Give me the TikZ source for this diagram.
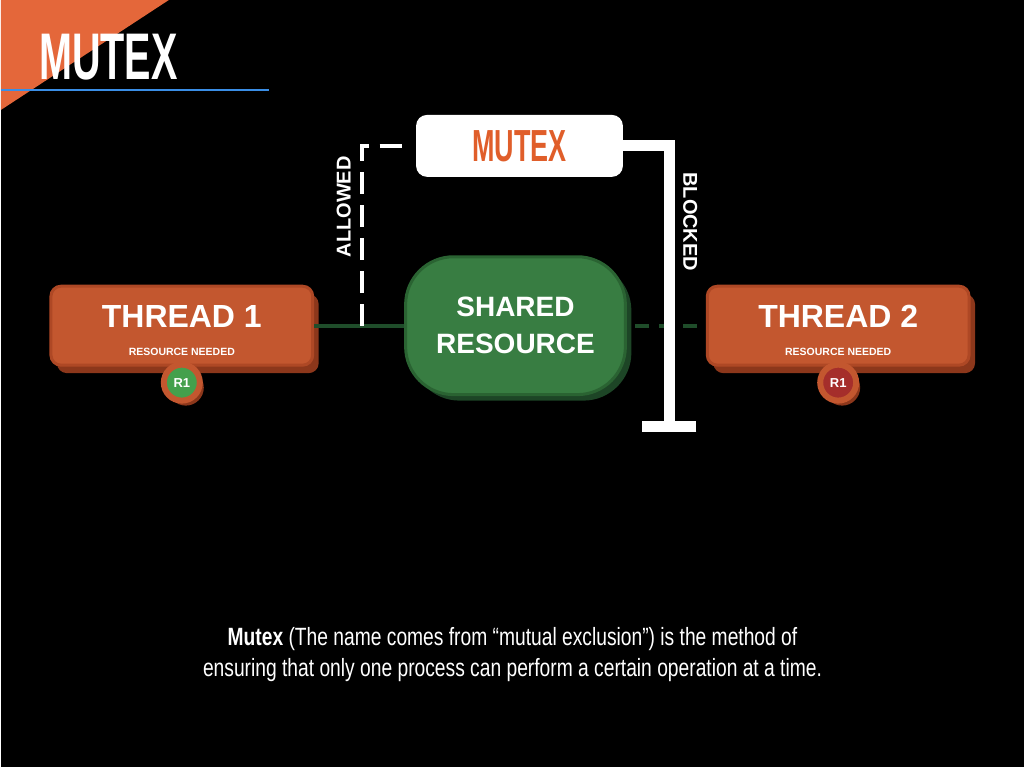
\documentclass[tikz,border=0pt]{standalone}
\usepackage{fontspec}
\setmainfont{Liberation Sans}
\newfontfamily\headfont[FakeStretch=0.6]{Liberation Sans}
\newfontfamily\notefont[FakeStretch=0.77]{Liberation Sans}
\usetikzlibrary{arrows.meta,shadows,positioning}

\definecolor{cornerorange}{HTML}{E4673A}
\definecolor{ruleblue}{HTML}{3A8EE6}
\definecolor{tface}{HTML}{C3572F}
\definecolor{tedge}{HTML}{AE4825}
\definecolor{tshade}{HTML}{8C371B}
\definecolor{gface}{HTML}{387D42}
\definecolor{gedge}{HTML}{2A6332}
\definecolor{gshade}{HTML}{1D4526}
\definecolor{linkgreen}{HTML}{1F4D2A}
\definecolor{okgreen}{HTML}{44A04C}
\definecolor{nored}{HTML}{A52E2B}
\definecolor{mutexorange}{HTML}{E05E2A}

\begin{document}
\begin{tikzpicture}[x=1pt,y=-1pt,
  tbox/.style={rectangle,rounded corners=10pt,fill=tface,draw=tedge,line width=3pt,minimum width=262pt,minimum height=79pt,general shadow={fill=tshade,shadow xshift=6pt,shadow yshift=-8pt}},
  tname/.style={text=white,inner sep=0pt,font=\bfseries\fontsize{32}{32}\selectfont},
  need/.style={text=white,inner sep=0pt,font=\bfseries\fontsize{10.5}{10.5}\selectfont},
  rdot/.style n args={1}{circle,fill=#1,draw=tface,line width=6pt,minimum size=36pt,inner sep=0pt,text=white,font=\bfseries\fontsize{13}{13}\selectfont,general shadow={fill=tshade,shadow xshift=4pt,shadow yshift=-5pt}},
  sidetext/.style={text=white,inner sep=0pt,font=\bfseries\fontsize{20}{20}\selectfont},
  linkline/.style={linkgreen,line width=4pt}]
\fill[black] (0,0) rectangle (1024,768);
\fill[cornerorange] (0,0) -- (168,0) -- (0,110) -- cycle;
\draw[ruleblue,line width=2pt] (0,90) -- (268,90);
\node[anchor=base west,inner sep=0pt,text=white,font=\headfont\bfseries\fontsize{66}{66}\selectfont] (title) at (38,80) {MUTEX};

% threads
\foreach \i/\x/\c in {1/181/okgreen,2/838/nored} {
   \node[tbox] (thread\i) at (\x,326) {};
   \node[tname] (name\i) at (\x,317) {THREAD \i};
   \node[need] (need\i) at (\x,352) {RESOURCE NEEDED};
   \node[rdot=\c] (res\i) at (\x,383) {R1};
}

\node[rectangle,rounded corners=48pt,fill=gface,draw=gedge,line width=3pt,minimum width=220pt,minimum height=138pt,align=center,text=white,font=\bfseries\fontsize{28}{37}\selectfont,general shadow={fill=gshade,shadow xshift=6pt,shadow yshift=-6pt}] (shared) at (515,326) {SHARED\\RESOURCE};

\node[rectangle,rounded corners=11pt,fill=white,minimum width=207pt,minimum height=62pt,text=mutexorange,font=\headfont\bfseries\fontsize{45}{45}\selectfont] (mutex) at (519,146) {MUTEX};

\draw[linkline] (thread1.east) -- (shared.west);
\draw[linkline,dash pattern=on 14pt off 10pt,shorten <=8pt] (shared.east) -- (thread2.west);

\coordinate (allow) at (361,326);
\draw[white,line width=4pt,dash pattern=on 22pt off 11pt] (allow) |- ([xshift=-10pt]mutex.west);
\node[sidetext,rotate=90] (allowed) at (343,207) {ALLOWED};

\coordinate (block) at (669,432);
\draw[white,line width=11pt,line join=miter,-{Bar[width=54pt]}] (mutex.east) -| (block);
\node[sidetext,rotate=-90] (blocked) at (690,222) {BLOCKED};

\node[anchor=north,align=center,text=white,font=\notefont\fontsize{25}{32}\selectfont] (note) at (512,624) {{\bfseries Mutex} (The name comes from “mutual exclusion”) is the method of\\ensuring that only one process can perform a certain operation at a time.};
\end{tikzpicture}
\end{document}
